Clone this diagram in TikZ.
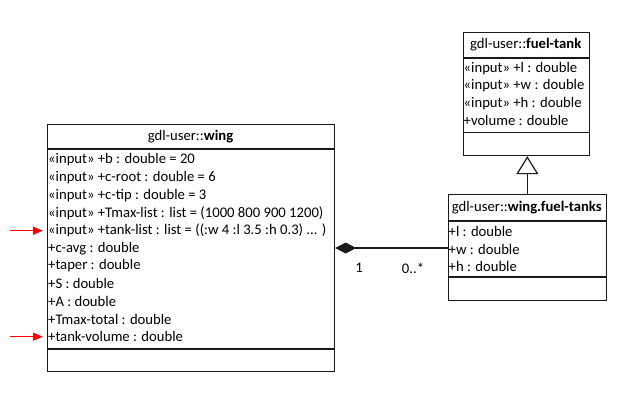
\documentclass[tikz,border=0pt]{standalone}
\usepackage{fontspec}
\setmainfont{Carlito}
\usetikzlibrary{arrows.meta}
\begin{document}
\begin{tikzpicture}[x=1pt,y=-1pt,
  classbox/.style={draw=black!90, line width=1.2pt, inner sep=0pt, anchor=north west},
  sep/.style={draw=black!90, line width=1.2pt},
  attr/.style={anchor=west, inner sep=0pt, text=black, font=\fontsize{14.67}{17}\selectfont},
  title/.style={inner sep=0pt, text=black, font=\fontsize{14.67}{17}\selectfont},
  link/.style={draw=black!90, line width=1.2pt},
  pointer/.style={draw=red, line width=1.2pt, -{Triangle[length=10pt,width=8pt]}, shorten >=5pt}]
\useasboundingbox (0,0) rectangle (627,418);

% class gdl-user::wing
\node[classbox, minimum width=287pt, minimum height=247pt] (wing) at (47,124) {};
\draw[sep] (wing.west |- 0,149) -- (wing.east |- 0,149);
\draw[sep] (wing.west |- 0,349) -- (wing.east |- 0,349);
\node[title] (wingname) at (190.5,137) {gdl-user::\textbf{wing}};
\node[attr] (w1)  at (48,160.0) {«input» +b : double = 20};
\node[attr] (w2)  at (48,177.7) {«input» +c-root : double = 6};
\node[attr] (w3)  at (48,195.3) {«input» +c-tip : double = 3};
\node[attr] (w4)  at (48,213.0) {«input» +Tmax-list : list = (1000 800 900 1200)};
\node[attr] (w5)  at (48,230.7) {«input» +tank-list : list = ((:w 4 :l 3.5 :h 0.3) ... )};
\node[attr] (w6)  at (48,248.3) {+c-avg : double};
\node[attr] (w7)  at (48,266.0) {+taper : double};
\node[attr] (w8)  at (48,283.7) {+S : double};
\node[attr] (w9)  at (48,301.3) {+A : double};
\node[attr] (w10) at (48,319.0) {+Tmax-total : double};
\node[attr] (w11) at (48,336.7) {+tank-volume : double};

% class gdl-user::fuel-tank
\node[classbox, minimum width=126.5pt, minimum height=123.5pt] (tank) at (462.5,31.5) {};
\draw[sep] (tank.west |- 0,58) -- (tank.east |- 0,58);
\draw[sep] (tank.west |- 0,132.5) -- (tank.east |- 0,132.5);
\node[title] (tankname) at (525.75,44.5) {gdl-user::\textbf{fuel-tank}};
\node[attr] (t1) at (463.5,68.5) {«input» +l : double};
\node[attr] (t2) at (463.5,85.8) {«input» +w : double};
\node[attr] (t3) at (463.5,103.1) {«input» +h : double};
\node[attr] (t4) at (463.5,120.4) {+volume : double};

% class gdl-user::wing.fuel-tanks
\node[classbox, minimum width=158.5pt, minimum height=106pt] (tanks) at (447.5,194) {};
\draw[sep] (tanks.west |- 0,221) -- (tanks.east |- 0,221);
\draw[sep] (tanks.west |- 0,277) -- (tanks.east |- 0,277);
\node[title] (tanksname) at (526.75,207.5) {gdl-user::\textbf{wing.fuel-tanks}};
\node[attr] (f1) at (448.5,231.5) {+l : double};
\node[attr] (f2) at (448.5,249.0) {+w : double};
\node[attr] (f3) at (448.5,266.5) {+h : double};

% generalization: wing.fuel-tanks is a fuel-tank
\draw[link, -{Triangle[open, length=18pt, width=22pt, fill=white]}] (tanks.north) -- (tanks.north |- tank.south);

% composition: wing owns its fuel-tanks
\coordinate (owner) at (wing.east |- 0,248);
\coordinate (part) at (tanks.west |- 0,248);
\draw[link, {Diamond[length=21pt,width=11pt]}-] (owner) -- (part);
\node[title] (mult1) at (359,268) {1};
\node[title] (mult2) at (413,268) {0..*};

% markers
\draw[pointer] (w5.west -| 10,0) -- (w5.west);
\draw[pointer] (w11.west -| 10,0) -- (w11.west);
\end{tikzpicture}
\end{document}
